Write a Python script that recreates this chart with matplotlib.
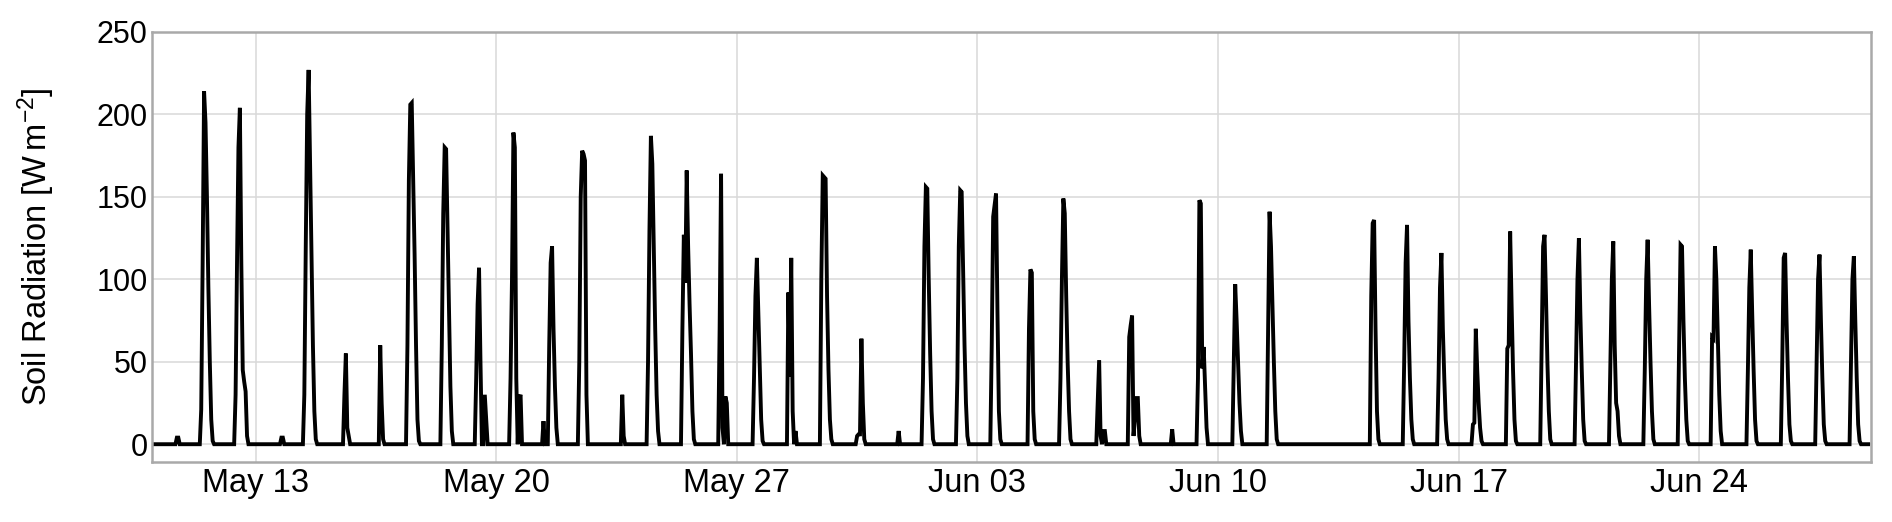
"""
Soil radiation time series, May 10 - Jun 28.
Hourly values read off the reference plot; everything outside the
listed daytime events is zero.
"""

import matplotlib
matplotlib.use("Agg")
import matplotlib.pyplot as plt
import matplotlib.dates as mdates
import pandas as pd

plt.rcParams["font.family"] = ["Liberation Sans", "DejaVu Sans"]
plt.rcParams["mathtext.fontset"] = "custom"
plt.rcParams["mathtext.rm"] = "Liberation Sans"
plt.rcParams["mathtext.default"] = "regular"

series_start = "2019-05-10 01:00"
series_end = "2019-06-28 22:00"

# first hour of each daytime event (value 0 there), then hourly values
event_start = [
    "2019-05-10 16:00", "2019-05-11 09:00", "2019-05-12 09:00", "2019-05-13 17:00",
    "2019-05-14 09:00", "2019-05-15 13:00", "2019-05-16 14:00", "2019-05-17 09:00",
    "2019-05-18 09:00", "2019-05-19 09:00", "2019-05-20 09:00", "2019-05-21 08:00",
    "2019-05-22 09:00", "2019-05-23 15:00", "2019-05-24 09:00", "2019-05-25 09:00",
    "2019-05-26 11:00", "2019-05-27 11:00", "2019-05-28 11:00", "2019-05-29 10:00",
    "2019-05-30 11:00", "2019-05-31 16:00", "2019-06-01 09:00", "2019-06-02 09:00",
    "2019-06-03 09:00", "2019-06-04 11:00", "2019-06-05 09:00", "2019-06-06 11:00",
    "2019-06-07 09:00", "2019-06-08 15:00", "2019-06-09 09:00", "2019-06-10 10:00",
    "2019-06-11 10:00", "2019-06-14 10:00", "2019-06-15 09:00", "2019-06-16 09:00",
    "2019-06-17 09:00", "2019-06-18 09:00", "2019-06-19 09:00", "2019-06-20 09:00",
    "2019-06-21 09:00", "2019-06-22 09:00", "2019-06-23 09:00", "2019-06-24 08:00",
    "2019-06-25 09:00", "2019-06-26 09:00", "2019-06-27 09:00", "2019-06-28 09:00",
]

event_values = [
    [0, 4, 4, 0],
    [0, 21, 110, 214, 195, 150, 95, 50, 15, 2, 0],
    [0, 30, 110, 180, 204, 110, 45, 38, 32, 5, 0],
    [0, 4, 4, 0],
    [0, 30, 120, 200, 227, 170, 110, 60, 20, 3, 0],
    [0, 30, 55, 10, 5, 0],
    [0, 60, 25, 3, 0],
    [0, 60, 160, 206, 207, 160, 115, 60, 15, 2, 0],
    [0, 60, 140, 180, 179, 130, 80, 35, 8, 0],
    [0, 40, 85, 107, 50, 0, 0, 30, 15, 0],
    [0, 40, 100, 189, 180, 40, 0, 28, 30, 0],
    [0, 14, 0, 0, 0, 60, 110, 120, 70, 35, 10, 0],
    [0, 50, 150, 178, 176, 172, 30, 0],
    [0, 30, 5, 0],
    [0, 50, 130, 187, 170, 120, 70, 30, 8, 0],
    [0, 70, 127, 98, 166, 120, 85, 55, 20, 3, 0],
    [0, 70, 164, 10, 0, 29, 25, 0],
    [0, 40, 90, 113, 80, 45, 15, 2, 0],
    [0, 92, 41, 113, 20, 0, 8, 0],
    [0, 100, 163, 162, 161, 90, 45, 15, 3, 0],
    [0, 5, 6, 6, 64, 25, 3, 0],
    [0, 8, 0],
    [0, 40, 120, 156, 155, 100, 55, 20, 3, 0],
    [0, 40, 120, 154, 153, 105, 60, 25, 5, 0],
    [0, 60, 138, 145, 152, 80, 20, 3, 0],
    [0, 70, 106, 104, 20, 3, 0],
    [0, 40, 100, 149, 140, 90, 50, 20, 3, 0],
    [0, 25, 51, 5, 0, 8, 8, 0],
    [0, 65, 72, 78, 5, 15, 28, 28, 5, 0],
    [0, 9, 0],
    [0, 40, 148, 146, 46, 59, 35, 10, 0],
    [0, 50, 97, 75, 50, 25, 8, 0],
    [0, 70, 141, 120, 85, 50, 20, 3, 0],
    [0, 90, 134, 136, 70, 20, 3, 0],
    [0, 50, 110, 133, 75, 40, 15, 3, 0],
    [0, 40, 95, 116, 70, 40, 15, 3, 0],
    [0, 12, 13, 70, 45, 25, 10, 2, 0],
    [0, 58, 60, 129, 85, 45, 15, 2, 0],
    [0, 60, 120, 127, 90, 50, 20, 3, 0],
    [0, 50, 100, 125, 80, 45, 15, 2, 0],
    [0, 50, 100, 123, 60, 25, 20, 5, 0],
    [0, 45, 100, 124, 85, 50, 20, 3, 0],
    [0, 60, 121, 120, 75, 40, 15, 2, 0],
    [0, 65, 64, 120, 100, 65, 30, 8, 0],
    [0, 45, 95, 118, 80, 45, 15, 2, 0],
    [0, 50, 113, 116, 75, 40, 12, 2, 0],
    [0, 50, 100, 115, 75, 40, 12, 2, 0],
    [0, 50, 100, 114, 75, 40, 12, 2, 0],
]

y_ticks = [0, 50, 100, 150, 200, 250]


def build_series() -> pd.Series:
    index = pd.date_range(series_start, series_end, freq="h")
    radiation = pd.Series(0.0, index=index)
    for start, vals in zip(event_start, event_values):
        idx = pd.date_range(start, periods=len(vals), freq="h")
        radiation.loc[idx] = vals
    return radiation


def main() -> None:
    radiation = build_series()

    fig = plt.figure(figsize=(18.92, 5.22), dpi=100)
    ax = fig.add_axes([0.0803, 0.1149, 0.9085, 0.8238])

    ax.plot(radiation.index, radiation.values, color="black", lw=2.8,
            solid_joinstyle="miter")

    ax.set_xlim(pd.Timestamp("2019-05-09 23:35"), pd.Timestamp("2019-06-28 23:50"))
    ax.set_ylim(-10.8, 250)
    ax.set_yticks(y_ticks)
    ax.xaxis.set_major_locator(mdates.WeekdayLocator(byweekday=mdates.MO))
    ax.xaxis.set_major_formatter(mdates.DateFormatter("%b %d"))

    ax.grid(True, color="#d9d9d9", lw=1.1)
    ax.set_axisbelow(True)
    for spine in ax.spines.values():
        spine.set_color("#a9a9a9")
        spine.set_linewidth(1.8)

    ax.tick_params(axis="both", length=0)
    ax.tick_params(axis="y", labelsize=22, pad=3)
    ax.tick_params(axis="x", labelsize=23.5, pad=4)

    ax.set_ylabel("Soil Radiation [W$\\,$m$^{-2}$]", fontsize=23.5)
    ax.yaxis.set_label_coords(-0.055, 0.5)

    fig.savefig("out.png", dpi=100)


if __name__ == "__main__":
    main()
